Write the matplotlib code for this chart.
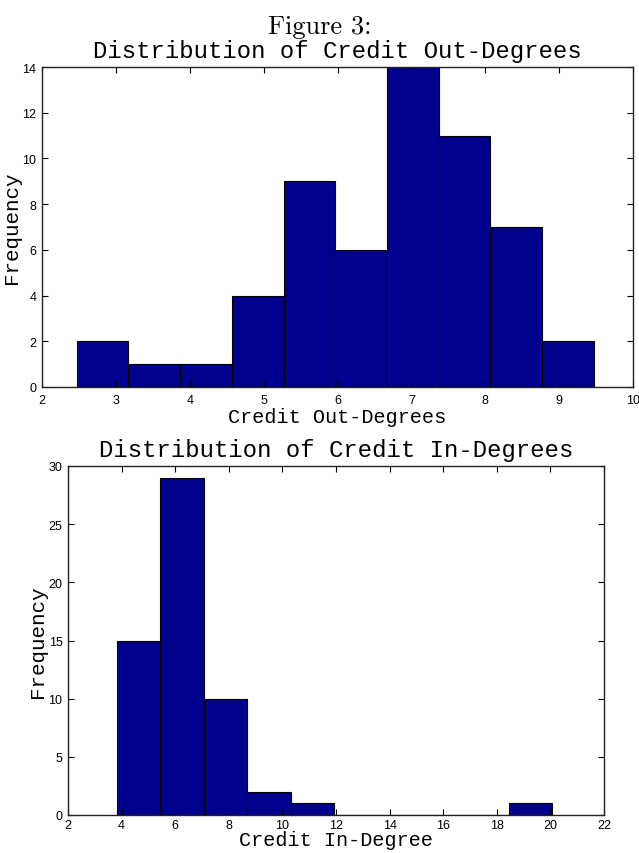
import numpy as np
import matplotlib
matplotlib.use("Agg")
import matplotlib.pyplot as plt

# histogram bins and counts for the two degree distributions
out_edges = [2.47, 3.17, 3.87, 4.57, 5.27, 5.97, 6.67, 7.37, 8.07, 8.77, 9.47]
out_counts = [2, 1, 1, 4, 9, 6, 14, 11, 7, 2]
out_xticks = [2, 3, 4, 5, 6, 7, 8, 9, 10]
out_yticks = [0, 2, 4, 6, 8, 10, 12, 14]

in_edges = [3.81, 5.44, 7.06, 8.69, 10.31, 11.94, 13.56, 15.19, 16.81, 18.44, 20.06]
in_counts = [15, 29, 10, 2, 1, 0, 0, 0, 0, 1]
in_xticks = [2, 4, 6, 8, 10, 12, 14, 16, 18, 20, 22]
in_yticks = [0, 5, 10, 15, 20, 25, 30]

W, H = 639, 854
fig = plt.figure(figsize=(W / 100, H / 100), dpi=100)

mono = "Liberation Mono"
sans = "Liberation Sans"
bar_color = "#00008F"


def px_axes(x0, y0, x1, y1):
    return fig.add_axes([x0 / W, 1 - y1 / H, (x1 - x0) / W, (y1 - y0) / H])


def draw_hist(ax, edges, counts, xticks, yticks, title, xlabel, xpad, tpad):
    edges = np.asarray(edges)
    ax.bar(edges[:-1], counts, width=np.diff(edges), align="edge",
           color=bar_color, edgecolor="black", linewidth=0.8)
    ax.set_xlim(xticks[0], xticks[-1])
    ax.set_ylim(yticks[0], yticks[-1])
    ax.set_xticks(xticks)
    ax.set_yticks(yticks)
    ax.tick_params(direction="in", length=4, width=0.8, top=True, right=True,
                   labelsize=9)
    ax.tick_params(axis="x", pad=tpad)
    ax.tick_params(axis="y", pad=4)
    for lab in ax.get_xticklabels() + ax.get_yticklabels():
        lab.set_family(sans)
    for s in ax.spines.values():
        s.set_linewidth(1.0)
        s.set_color("#222222")
    ax.set_title(title, family=mono, fontsize=17.2, pad=7)
    ax.set_xlabel(xlabel, family=mono, fontsize=14.5, labelpad=xpad)
    ax.set_ylabel("Frequency", family=mono, fontsize=15, labelpad=1)


ax1 = px_axes(42, 68, 633, 388)
draw_hist(ax1, out_edges, out_counts, out_xticks, out_yticks,
          "Distribution of Credit Out-Degrees", "Credit Out-Degrees", 1, 5)

ax2 = px_axes(68, 467, 604, 816)
draw_hist(ax2, in_edges, in_counts, in_xticks, in_yticks,
          "Distribution of Credit In-Degrees", "Credit In-Degree", -0.5, 3)

fig.text(0.5, 1 - 27 / H, "Figure 3:", family="cmr10", fontsize=19,
         ha="center", va="center")

fig.savefig("out.png", dpi=100)
